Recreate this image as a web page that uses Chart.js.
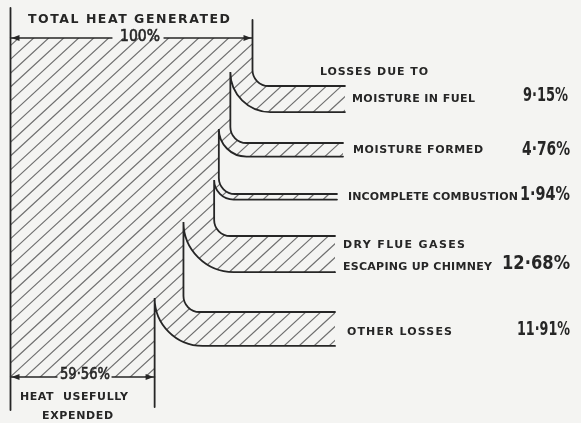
<!DOCTYPE html>
<html><head><meta charset="utf-8">
<script src="https://cdn.jsdelivr.net/npm/chart.js@4/dist/chart.umd.min.js"></script>
<style>html,body{margin:0;padding:0;background:#f4f4f2;}#wrap{width:581px;height:423px;}</style>
</head><body><div id="wrap"><canvas id="c" width="581" height="423"></canvas></div>
<script>
// ---- DATA ----
const totalValue = 100;
const usefulValue = 59.56;
const lossCategories = [["MOISTURE IN FUEL"], ["MOISTURE FORMED"], ["INCOMPLETE COMBUSTION"], ["DRY FLUE GASES", "ESCAPING UP CHIMNEY"], ["OTHER LOSSES"]];
const lossValues = [9.15, 4.76, 1.94, 12.68, 11.91];
const totalTitle = "TOTAL HEAT GENERATED";
const lossesTitle = "LOSSES DUE TO";
const usefulTitle = ["HEAT  USEFULLY", "EXPENDED"];

// ---- LAYOUT (positions / sizes, not data) ----
const L = {
  xLeftPx: 10.5, xPxPerPct: 2.42, yPerPct: 2.85,
  leftTop: 8, leftBottom: 410, rightTop: 20, dimTopY: 38, dimBotY: 377, bottomRightEnd: 407,
  branchTop: [86, 143, 194, 236, 312],
  branchEnd: [138.2, 137.4, 134.9, 134.1, 134.1],
  tipOffset: 14, topR: 16,
  hatchSpacing: 15, hatchSlope: 0.92
};
const XMIN = -L.xLeftPx / L.xPxPerPct, XMAX = XMIN + 581 / L.xPxPerPct;
const pxToX = px => (px - L.xLeftPx) / L.xPxPerPct;
const TXT = {
  total: {l: 28, r: 230, y: 19.5, font: "bold 12.5px 'DejaVu Sans'"},
  totalVal: {l: 120, r: 160, y: 37.5, font: "15px 'DejaVu Sans'"},
  losses: {l: 320, r: 428, y: 72.5, font: "bold 11px 'DejaVu Sans'"},
  lossLabel: [[{l: 352, r: 475, y: 99}], [{l: 353, r: 483, y: 150.5}], [{l: 348, r: 518, y: 197}], [{l: 343, r: 465, y: 245}, {l: 343, r: 492, y: 267}], [{l: 347, r: 452, y: 332}]],
  lossVal: [{l: 523, r: 568, y: 96}, {l: 522, r: 570, y: 150}, {l: 520, r: 570, y: 195}, {l: 502, r: 570, y: 264}, {l: 517, r: 570, y: 330}],
  usefulVal: {l: 60, r: 110, y: 375, font: "16px 'DejaVu Sans'"},
  useful: [{l: 20, r: 128, y: 397.5}, {l: 42, r: 113, y: 416.5}],
  labelFont: "bold 11px 'DejaVu Sans'", valFont: "bold 19px 'DejaVu Sans'"
};
const INK = '#262626', HATCH = '#707070', BG = '#f4f4f2';

const fmt = v => Number.isInteger(v) ? v + '%' : v.toFixed(2).replace('.', '\u00B7') + '%';

function drawFit(ctx, text, box, font, thicken) {
  ctx.save();
  ctx.font = font; ctx.textAlign = 'left'; ctx.textBaseline = 'middle'; ctx.fillStyle = INK;
  ctx.strokeStyle = INK; ctx.lineWidth = thicken || 0;
  ctx.letterSpacing = '0px';
  const w = ctx.measureText(text).width;
  const target = box.r - box.l;
  if (target > w && text.length > 1) {
    const sp = (target - w) / (text.length - 1);
    ctx.letterSpacing = sp.toFixed(2) + 'px';
    ctx.fillText(text, box.l, box.y);
    if (thicken) ctx.strokeText(text, box.l, box.y);
  } else {
    ctx.translate(box.l, box.y); ctx.scale(target / w, 1); ctx.fillText(text, 0, 0);
    if (thicken) ctx.strokeText(text, 0, 0);
  }
  ctx.restore();
}

function arrow(ctx, x, y, dir) {
  ctx.beginPath();
  ctx.moveTo(x, y);
  ctx.lineTo(x - dir * 8, y - 3);
  ctx.lineTo(x - dir * 8, y + 3);
  ctx.closePath(); ctx.fill();
}

const sankeyPlugin = {
  id: 'sankey',
  beforeDraw(chart) {
    const c = chart.ctx; c.save(); c.fillStyle = BG; c.fillRect(0, 0, chart.width, chart.height); c.restore();
  },
  afterDraw(chart) {
    const ctx = chart.ctx, xs = chart.scales.x, ys = chart.scales.y;
    const X = v => xs.getPixelForValue(v), Y = v => ys.getPixelForValue(v);
    const edges = [totalValue];
    lossValues.forEach(v => edges.push(edges[edges.length - 1] - v));
    const br = lossValues.map((v, k) => ({
      outer: X(edges[k]), inner: X(edges[k + 1]),
      top: Y(L.branchTop[k]), bot: Y(L.branchTop[k] + v * L.yPerPct),
      tip: Y(L.branchTop[k] - L.tipOffset), end: X(L.branchEnd[k])
    }));
    const r = L.topR;

    // hatched region
    ctx.save();
    ctx.beginPath();
    ctx.moveTo(X(0), Y(L.dimTopY));
    ctx.lineTo(br[0].outer, Y(L.dimTopY));
    br.forEach(b => {
      ctx.lineTo(b.outer, b.top - r);
      ctx.ellipse(b.outer + r, b.top - r, r, r, 0, Math.PI, Math.PI / 2, true);
      ctx.lineTo(b.end, b.top);
      ctx.lineTo(b.end, b.bot);
      const rb = b.bot - b.tip;
      ctx.lineTo(b.inner + rb, b.bot);
      ctx.ellipse(b.inner + rb, b.tip, rb, rb, 0, Math.PI / 2, Math.PI, false);
    });
    ctx.lineTo(X(edges[edges.length - 1]), Y(L.dimBotY));
    ctx.lineTo(X(0), Y(L.dimBotY));
    ctx.closePath();
    ctx.clip();
    ctx.strokeStyle = HATCH; ctx.lineWidth = 1.2;
    ctx.beginPath();
    const H = chart.height, W = chart.width;
    for (let x0 = -H / L.hatchSlope; x0 < W; x0 += L.hatchSpacing) {
      ctx.moveTo(x0, H); ctx.lineTo(x0 + H / L.hatchSlope, 0);
    }
    ctx.stroke();
    ctx.restore();

    // outlines
    ctx.save();
    ctx.strokeStyle = INK; ctx.fillStyle = INK; ctx.lineWidth = 1.8; ctx.lineCap = 'round';
    ctx.beginPath(); ctx.moveTo(X(0), Y(L.leftTop)); ctx.lineTo(X(0), Y(L.leftBottom)); ctx.stroke();
    ctx.beginPath();
    ctx.moveTo(br[0].outer, Y(L.rightTop));
    ctx.lineTo(br[0].outer, br[0].top - r);
    ctx.ellipse(br[0].outer + r, br[0].top - r, r, r, 0, Math.PI, Math.PI / 2, true);
    ctx.lineTo(br[0].end, br[0].top);
    ctx.stroke();
    br.forEach((b, k) => {
      const rb = b.bot - b.tip;
      ctx.beginPath();
      ctx.moveTo(b.end, b.bot);
      ctx.lineTo(b.inner + rb, b.bot);
      ctx.ellipse(b.inner + rb, b.tip, rb, rb, 0, Math.PI / 2, Math.PI, false);
      if (k < br.length - 1) {
        const n = br[k + 1];
        ctx.lineTo(n.outer, n.top - r);
        ctx.ellipse(n.outer + r, n.top - r, r, r, 0, Math.PI, Math.PI / 2, true);
        ctx.lineTo(n.end, n.top);
      } else {
        ctx.lineTo(b.inner, Y(L.bottomRightEnd));
      }
      ctx.stroke();
    });

    // dimension lines
    ctx.lineWidth = 1.3;
    const yT = Y(L.dimTopY), yB = Y(L.dimBotY);
    ctx.beginPath();
    ctx.moveTo(X(0), yT); ctx.lineTo(X(pxToX(TXT.totalVal.l - 8)), yT);
    ctx.moveTo(X(pxToX(TXT.totalVal.r + 4)), yT); ctx.lineTo(X(totalValue), yT);
    ctx.moveTo(X(0), yB); ctx.lineTo(X(pxToX(TXT.usefulVal.l - 3)), yB);
    ctx.moveTo(X(pxToX(TXT.usefulVal.r + 2)), yB); ctx.lineTo(X(usefulValue), yB);
    ctx.stroke();
    arrow(ctx, X(0) + 1, yT, -1); arrow(ctx, X(totalValue) - 1, yT, 1);
    arrow(ctx, X(0) + 1, yB, -1); arrow(ctx, X(usefulValue) - 1, yB, 1);
    ctx.restore();

    // texts
    drawFit(ctx, totalTitle, TXT.total, TXT.total.font);
    drawFit(ctx, fmt(totalValue), TXT.totalVal, TXT.totalVal.font, 0.6);
    drawFit(ctx, lossesTitle, TXT.losses, TXT.losses.font);
    lossCategories.forEach((lines, k) => {
      lines.forEach((t, j) => drawFit(ctx, t, TXT.lossLabel[k][j], TXT.labelFont));
      drawFit(ctx, fmt(lossValues[k]), TXT.lossVal[k], TXT.valFont);
    });
    drawFit(ctx, fmt(usefulValue), TXT.usefulVal, TXT.usefulVal.font, 0.6);
    usefulTitle.forEach((t, j) => drawFit(ctx, t, TXT.useful[j], TXT.labelFont));
  }
};

new Chart(document.getElementById('c'), {
  type: 'scatter',
  data: { datasets: [{ data: lossValues.map((v, k) => ({ x: totalValue - v, y: L.branchTop[k] })), pointRadius: 0, showLine: false }] },
  options: {
    responsive: false, animation: false, events: [],
    layout: { padding: 0 },
    plugins: { legend: { display: false }, tooltip: { enabled: false } },
    scales: {
      x: { type: 'linear', display: false, min: XMIN, max: XMAX },
      y: { type: 'linear', display: false, min: 0, max: 423, reverse: true }
    }
  },
  plugins: [sankeyPlugin]
});
</script></body></html>
